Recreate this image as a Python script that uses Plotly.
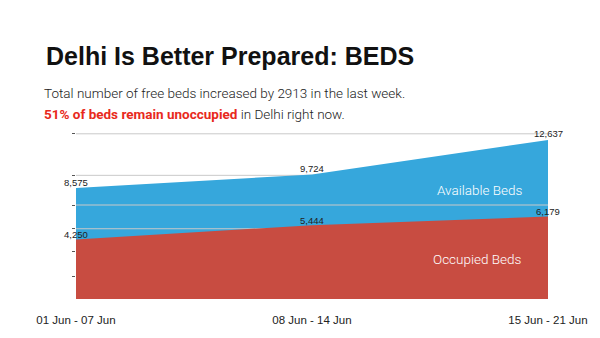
import plotly.graph_objects as go

# ---- data ----
periods = ["01 Jun - 07 Jun", "08 Jun - 14 Jun", "15 Jun - 21 Jun"]
total_beds = [8575, 9724, 12637]
occupied_beds = [4250, 5444, 6179]
total_labels = ["8,575", "9,724", "12,637"]
occupied_labels = ["4,250", "5,444", "6,179"]
grid_below = [13150, 9650]
grid_over = [7150, 5150]
tick_values = [13150, 9650, 7150, 5150, 3200, 1100]
axis_min = -770
axis_max = 13470

BLUE = "#36a7dc"
RED = "#c84c41"
GRID = "#c9c9c9"
SANS = "Liberation Sans, Arial, sans-serif"

xi = list(range(len(periods)))

fig = go.Figure()
# base line for fills
fig.add_trace(go.Scatter(x=xi, y=[axis_min] * len(xi), mode="lines",
                         line=dict(width=0), hoverinfo="skip", showlegend=False))
# available (total) area
fig.add_trace(go.Scatter(x=xi, y=total_beds, mode="lines", fill="tonexty",
                         fillcolor=BLUE, line=dict(width=0, color=BLUE),
                         showlegend=False, name="Available Beds"))
# grid lines drawn over the blue area
for g in grid_over:
    fig.add_trace(go.Scatter(x=[xi[0], xi[-1]], y=[g, g], mode="lines",
                             line=dict(width=1, color=GRID), hoverinfo="skip",
                             showlegend=False))
# occupied area
fig.add_trace(go.Scatter(x=xi + [xi[-1], xi[0]],
                         y=occupied_beds + [axis_min, axis_min],
                         mode="lines", fill="toself", fillcolor=RED,
                         line=dict(width=0, color=RED), showlegend=False,
                         name="Occupied Beds"))

ann = []
for x, v, t in zip(xi, total_beds, total_labels):
    ann.append(dict(x=x, y=v, text=t, showarrow=False, yanchor="middle", yshift=6,
                    font=dict(family=SANS, size=9.5, color="#222")))
for x, v, t in zip(xi, occupied_beds, occupied_labels):
    ann.append(dict(x=x, y=v, text=t, showarrow=False, yanchor="middle", yshift=5,
                    font=dict(family=SANS, size=9.5, color="#222")))

ann.append(dict(x=1.71, y=8400, text="Available Beds", showarrow=False,
                font=dict(family="Roboto", size=13.5, color="white", weight=300)))
ann.append(dict(x=1.70, y=2600, text="Occupied Beds", showarrow=False,
                font=dict(family="Roboto", size=13.5, color="white", weight=300)))

ann.append(dict(xref="paper", yref="paper", x=-0.0714, y=1.2164, xanchor="left",
                yanchor="middle", showarrow=False,
                text="Total number of free beds increased by 2913 in the last week.",
                font=dict(family="Roboto", size=13.5, color="#222", weight=300)))
ann.append(dict(xref="paper", yref="paper", x=-0.0714, y=1.0918, xanchor="left",
                yanchor="middle", showarrow=False,
                text="<span style='color:#e8291c;font-weight:700'>51% of beds remain unoccupied</span> in Delhi right now.",
                font=dict(family="Roboto", size=13.5, color="#222", weight=300)))

fig.update_layout(
    width=600, height=338,
    margin=dict(l=76, r=48, t=130, b=32),
    paper_bgcolor="white", plot_bgcolor="white",
    title=dict(text="<b>Delhi Is Better Prepared: BEDS</b>", xref="container",
               yref="container", x=46 / 600, xanchor="left", y=1 - 56 / 338,
               yanchor="middle",
               font=dict(family=SANS, size=25, color="#111")),
    annotations=ann,
    xaxis=dict(range=[0, 2], tickvals=xi, ticktext=periods, showgrid=False,
               zeroline=False, showline=False, ticks="outside", ticklen=10,
               tickcolor="rgba(0,0,0,0)",
               tickfont=dict(family=SANS, size=11.5, color="#222")),
    yaxis=dict(range=[axis_min, axis_max], tickvals=tick_values,
               showticklabels=False, showgrid=False, zeroline=False,
               ticks="outside", ticklen=3, tickcolor="#555"),
)
# grid lines below the areas
for g in grid_below:
    fig.add_hline(y=g, line=dict(color=GRID, width=1), layer="below")

fig.write_html("out.html")
